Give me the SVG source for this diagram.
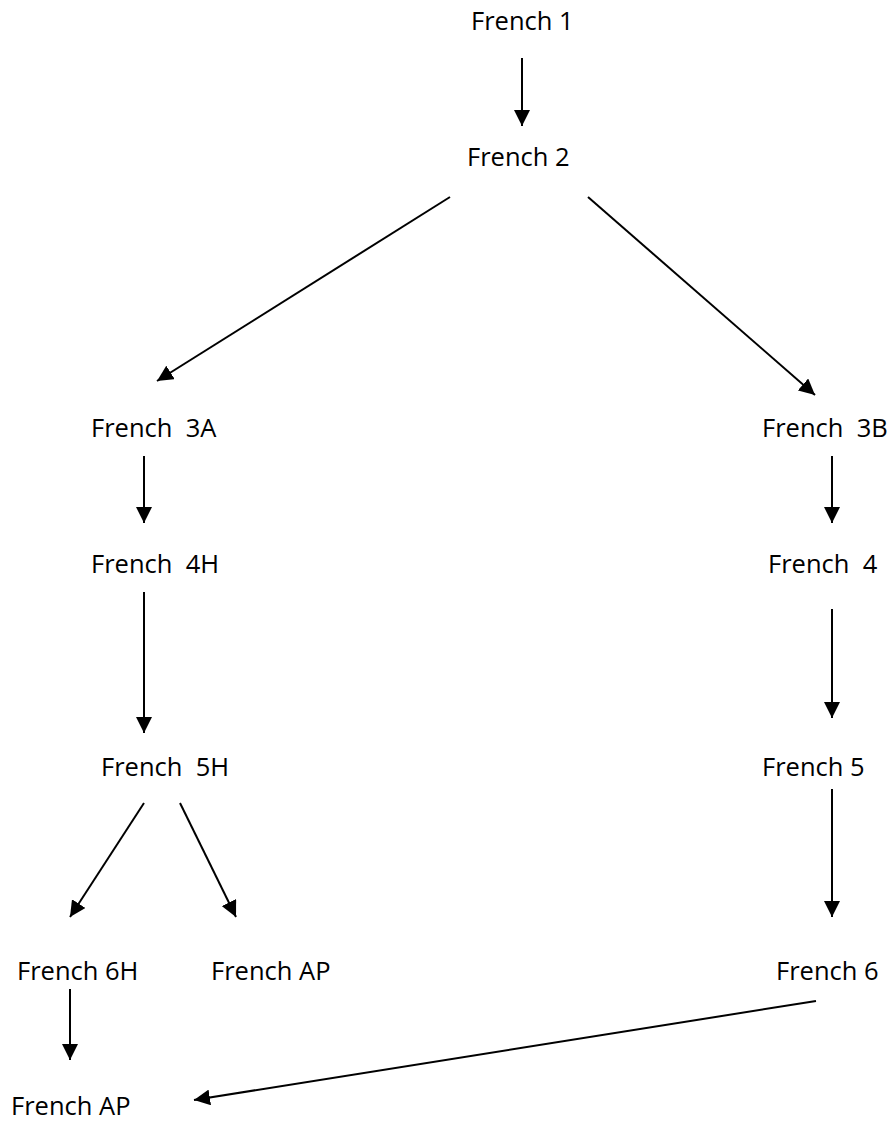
<svg xmlns="http://www.w3.org/2000/svg" width="892" height="1124" viewBox="0 0 892 1124">
<style>
text{font-family:"Open Sans","Noto Sans","Liberation Sans",sans-serif;font-size:25.5px;fill:#000;white-space:pre}
.c line{stroke:#000;stroke-width:2;marker-end:url(#ah)}
</style>
<defs>
<marker id="ah" markerUnits="userSpaceOnUse" markerWidth="16" markerHeight="16" refX="16" refY="8" orient="auto" viewBox="0 0 16 16">
<path d="M0,0 L16,8 L0,16 z" fill="#000"/>
</marker>
</defs>
<rect width="892" height="1124" fill="#fff"/>
<g id="n1"><text x="471" y="30">French 1</text></g>
<g id="n2"><text x="467" y="166">French 2</text></g>
<g id="n3a"><text x="91" y="437">French  3A</text></g>
<g id="n3b"><text x="762" y="437">French  3B</text></g>
<g id="n4h"><text x="91" y="573">French  4H</text></g>
<g id="n4"><text x="768" y="573">French  4</text></g>
<g id="n5h"><text x="101" y="776">French  5H</text></g>
<g id="n5"><text x="762" y="776">French 5</text></g>
<g id="n6h"><text x="17" y="980">French 6H</text></g>
<g id="nap1"><text x="211" y="980">French AP</text></g>
<g id="n6"><text x="776" y="980">French 6</text></g>
<g id="nap2"><text x="11" y="1115">French AP</text></g>
<g class="c" id="connectors">
<line x1="522" y1="58" x2="522" y2="126"/>
<line x1="450" y1="197" x2="157" y2="381"/>
<line x1="588" y1="197" x2="815" y2="395"/>
<line x1="144" y1="456" x2="144" y2="523"/>
<line x1="832" y1="456" x2="832" y2="523"/>
<line x1="144" y1="592" x2="144" y2="733"/>
<line x1="832" y1="609" x2="832" y2="718"/>
<line x1="144" y1="803" x2="70" y2="917"/>
<line x1="180" y1="803" x2="236" y2="917"/>
<line x1="832" y1="789" x2="832" y2="917"/>
<line x1="70" y1="989" x2="70" y2="1060"/>
<line x1="816" y1="1001" x2="194" y2="1100"/>
</g>
</svg>
